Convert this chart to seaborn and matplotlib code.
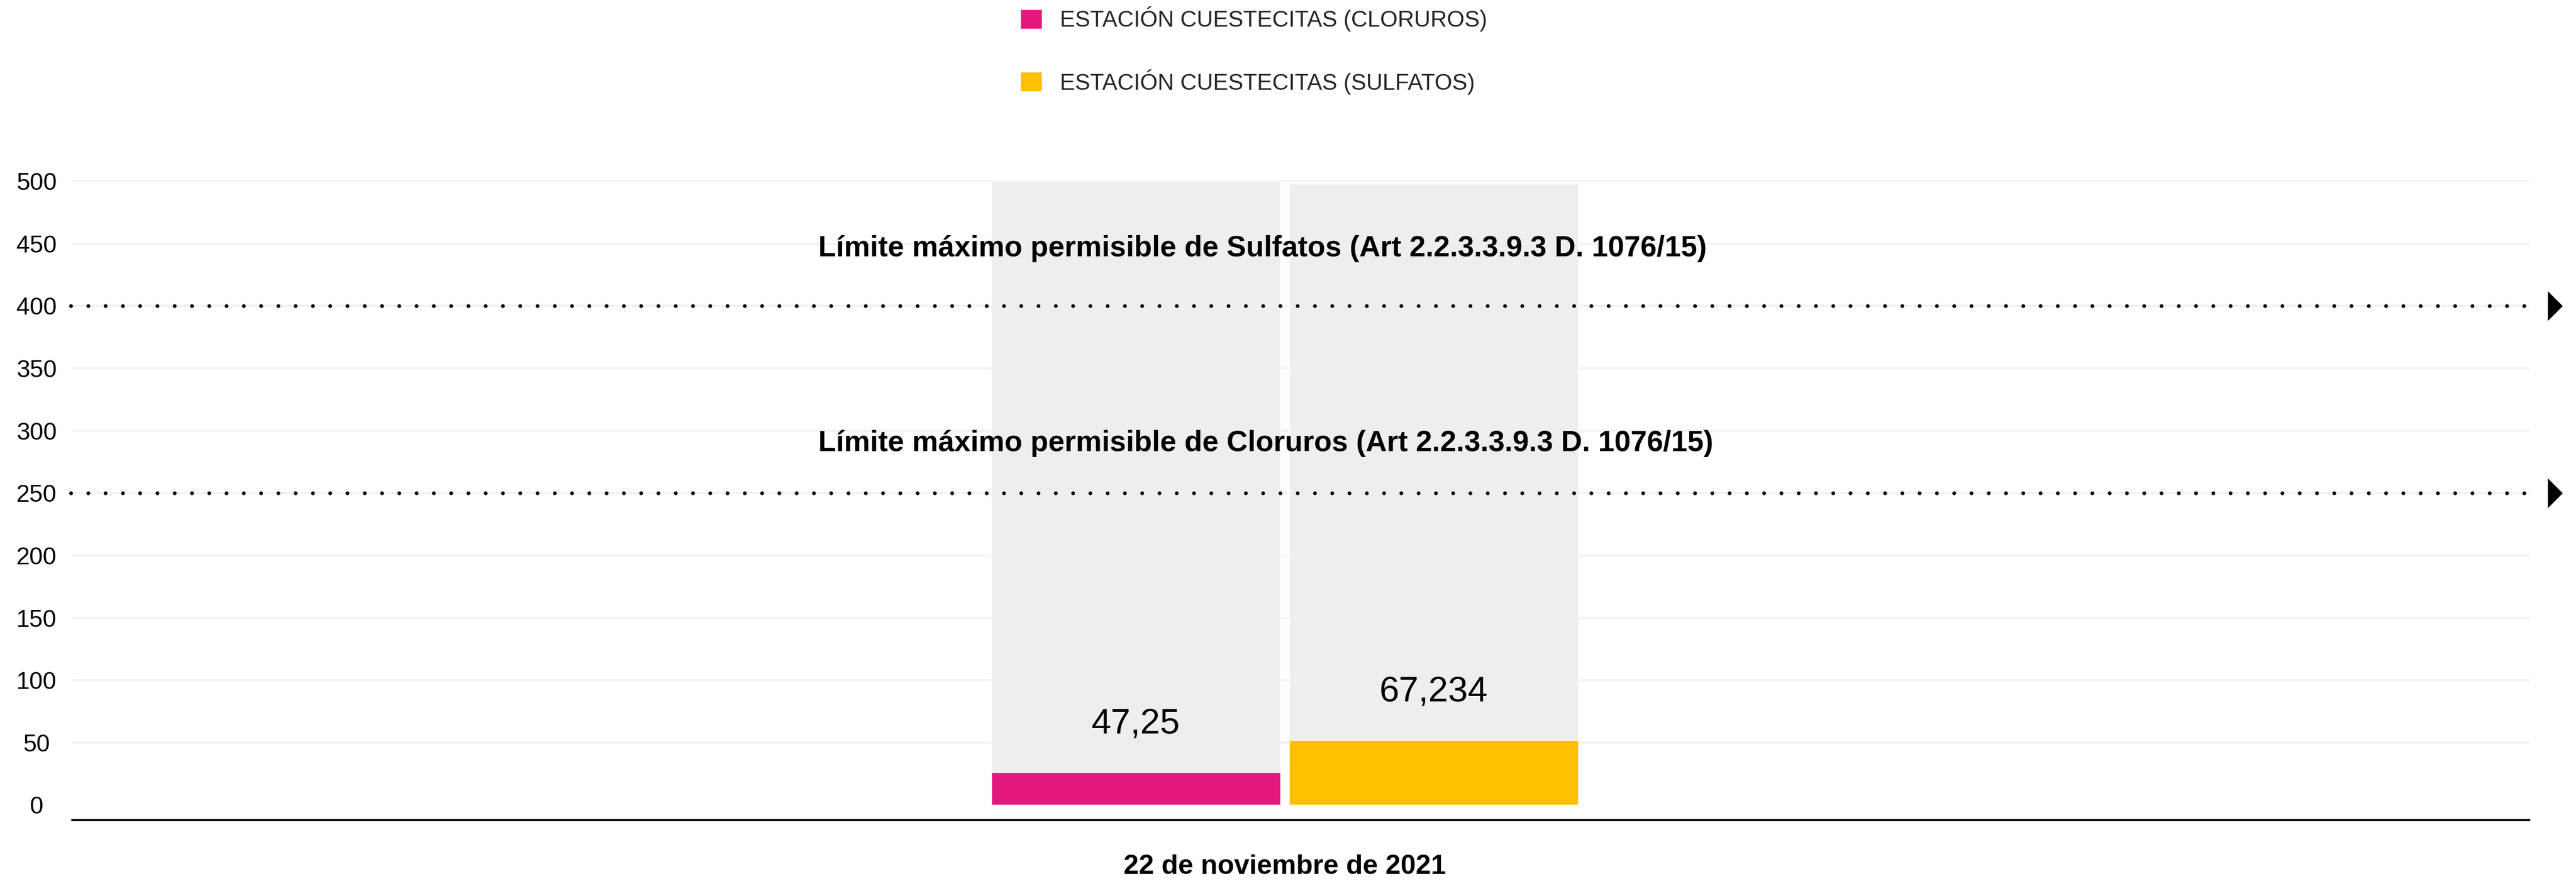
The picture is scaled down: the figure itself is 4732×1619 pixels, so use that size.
import numpy as np
import pandas as pd
import matplotlib
matplotlib.use("Agg")
import matplotlib.pyplot as plt
import matplotlib.transforms as mtransforms
import seaborn as sns

# data
fecha = ["22 de noviembre de 2021"]
series = ["ESTACIÓN CUESTECITAS (CLORUROS)", "ESTACIÓN CUESTECITAS (SULFATOS)"]
alturas = [26.2, 51.9]          # bar heights as drawn
etiquetas = ["47,25", "67,234"]  # value labels printed above the bars
fondo = [500, 498]               # grey background bars
limites = [400, 250]
textos_limite = ["Límite máximo permisible de Sulfatos (Art 2.2.3.3.9.3 D. 1076/15)",
                 "Límite máximo permisible de Cloruros (Art 2.2.3.3.9.3 D. 1076/15)"]
yticks = list(range(0, 501, 50))

colores = ["#E5197D", "#FFC000"]
gris = "#EEEEEE"

df = pd.DataFrame({"fecha": fecha * len(series), "serie": series,
                   "valor": alturas, "fondo": fondo})

sns.set_style("white")
plt.rcParams["font.family"] = ["Liberation Sans", "DejaVu Sans"]

W, H, dpi = 4732, 1619, 100
fig = plt.figure(figsize=(W / dpi, H / dpi), dpi=dpi)
ax = fig.add_axes([133 / W, (H - 1507) / H, (4646 - 133) / W, 1197 / H])

# grey backgrounds
sns.barplot(data=df, x="fecha", y="fondo", hue="serie", palette=[gris, gris],
            width=0.8, gap=0.03, saturation=1, legend=False, ax=ax, zorder=2)
# actual bars
sns.barplot(data=df, x="fecha", y="valor", hue="serie", palette=colores,
            width=0.8, gap=0.03, saturation=1, ax=ax, zorder=3)

ax.set_xlim(-1.627, 1.670)
ax.set_ylim(-12, 510)
ax.set_xlabel("")
ax.set_ylabel("")

# gridlines (no line at 0)
for t in yticks[1:]:
    ax.axhline(t, color="#F2F2F2", lw=2.9, zorder=1)

ax.set_yticks(yticks)
ax.set_yticklabels([str(t) for t in yticks])
ax.tick_params(axis="y", length=0, pad=47.5, labelsize=32, labelcolor="black")
for lab in ax.get_yticklabels():
    lab.set_horizontalalignment("center")
ax.tick_params(axis="x", length=0, pad=45, labelsize=36, labelcolor="black")
for lab in ax.get_xticklabels():
    lab.set_fontweight("bold")

for s in ["left", "top", "right"]:
    ax.spines[s].set_visible(False)
ax.spines["bottom"].set_color("black")
ax.spines["bottom"].set_linewidth(2.9)
ax.spines["bottom"].set_zorder(5)

# value labels
for i, cont in enumerate(ax.containers[2:]):
    ax.bar_label(cont, labels=[etiquetas[i]], padding=42, fontsize=47, color="black")

# dotted limit lines with arrow heads
trans = mtransforms.blended_transform_factory(ax.transAxes, ax.transData)
flecha = [(-0.5, 1), (0.5, 0), (-0.5, -1)]
for lim in limites:
    ax.plot([-0.0007, 1.0012], [lim, lim], transform=trans, color="black",
            lw=5, linestyle=(0, (0.01, 4.56)), dash_capstyle="round",
            clip_on=False, zorder=6)
    ax.plot([1.0104], [lim], transform=trans, marker=flecha, markersize=38,
            color="black", clip_on=False, zorder=6)

ax.text(0.3036, 439.6, textos_limite[0], transform=trans, fontsize=38.5,
        fontweight="bold", ha="left", va="baseline", color="black", zorder=7)
ax.text(0.3036, 283.5, textos_limite[1], transform=trans, fontsize=38.5,
        fontweight="bold", ha="left", va="baseline", color="black", zorder=7)

sns.move_legend(ax, loc="upper left", bbox_to_anchor=(1874 / W, 1 - 12 / H),
                bbox_transform=fig.transFigure, frameon=False, title=None,
                fontsize=30, handlelength=0.95, handleheight=0.95,
                handletextpad=0.8, labelspacing=1.65, borderpad=0,
                borderaxespad=0)

fig.savefig("out.png", dpi=dpi, facecolor="white")
